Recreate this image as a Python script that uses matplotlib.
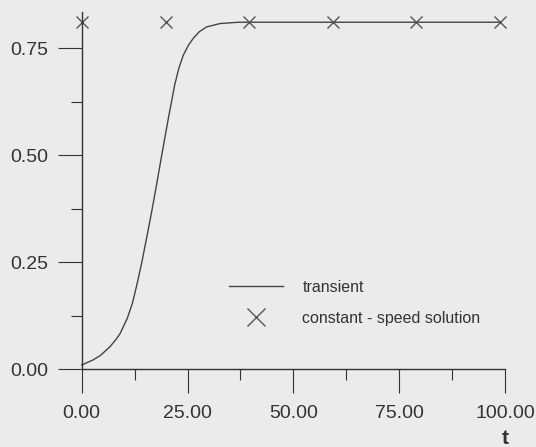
import matplotlib
matplotlib.use("Agg")
import matplotlib.pyplot as plt
from matplotlib.ticker import MultipleLocator, FormatStrFormatter
from matplotlib.lines import Line2D

# transient curve
t_transient = [0.0, 2.7, 4.5, 6.7, 8.2, 9.1, 10.8, 12.0, 13.0, 14.2, 15.4,
               16.6, 17.7, 18.9, 20.5, 22.0, 23.0, 24.0, 25.2, 26.4, 27.8,
               29.5, 32.7, 37.0, 60.0, 80.0, 98.8]
y_transient = [0.010, 0.022, 0.033, 0.053, 0.071, 0.084, 0.120, 0.155, 0.196,
               0.250, 0.310, 0.372, 0.432, 0.500, 0.588, 0.666, 0.705, 0.734,
               0.757, 0.774, 0.789, 0.800, 0.808, 0.811, 0.811, 0.811, 0.811]

# constant-speed solution markers
t_const = [0.0, 19.8, 39.5, 59.3, 79.0, 98.8]
y_const = [0.811, 0.811, 0.811, 0.811, 0.811, 0.811]

x_ticks = [0, 25, 50, 75, 100]
y_ticks = [0.0, 0.25, 0.5, 0.75]

PAPER = "#ebebeb"
INK = "#333333"

plt.rcParams.update({
    "font.family": ["Liberation Sans", "DejaVu Sans"],
    "font.size": 14,
    "text.color": INK,
    "axes.edgecolor": INK,
    "xtick.color": INK,
    "ytick.color": INK,
})

fig = plt.figure(figsize=(5.36, 4.47), dpi=100, facecolor=PAPER)
ax = fig.add_axes([0.1524, 0.1738, 0.7898, 0.7994])
ax.set_facecolor(PAPER)

ax.plot(t_transient, y_transient, color="#444444", lw=1.0, clip_on=False,
        solid_joinstyle="round")
ax.plot(t_const, y_const, ls="none", marker="x", ms=8, mew=1.0,
        color="#555555", clip_on=False)

ax.set_xlim(0, 100)
ax.set_ylim(0, 0.835)

for side in ("top", "right"):
    ax.spines[side].set_visible(False)
for side in ("left", "bottom"):
    ax.spines[side].set_linewidth(1.0)

ax.set_xticks(x_ticks)
ax.set_yticks(y_ticks)
ax.xaxis.set_minor_locator(MultipleLocator(12.5))
ax.yaxis.set_minor_locator(MultipleLocator(0.125))
ax.xaxis.set_major_formatter(FormatStrFormatter("%.2f"))
ax.yaxis.set_major_formatter(FormatStrFormatter("%.2f"))
ax.tick_params(which="major", direction="out", length=17, width=0.8, pad=7,
               labelsize=14)
ax.tick_params(axis="x", which="major", pad=9)
ax.tick_params(which="minor", direction="out", length=8, width=0.8)

fig.text(505 / 536, 1 - 438 / 447, "t", ha="center", va="center",
         fontsize=15, fontweight="bold")

handles = [
    Line2D([0], [0], color="#444444", lw=1.0),
    Line2D([0], [0], ls="none", marker="x", ms=13, mew=1.0, color="#555555"),
]
ax.legend(handles, ["transient", "constant - speed solution"],
          loc="center left", bbox_to_anchor=(229 / 536, 1 - 303 / 447),
          bbox_transform=fig.transFigure, frameon=False, fontsize=11.5,
          handlelength=3.4, handletextpad=1.2, labelspacing=1.0,
          borderpad=0, borderaxespad=0)

fig.savefig("out.png", dpi=100, facecolor=PAPER)
